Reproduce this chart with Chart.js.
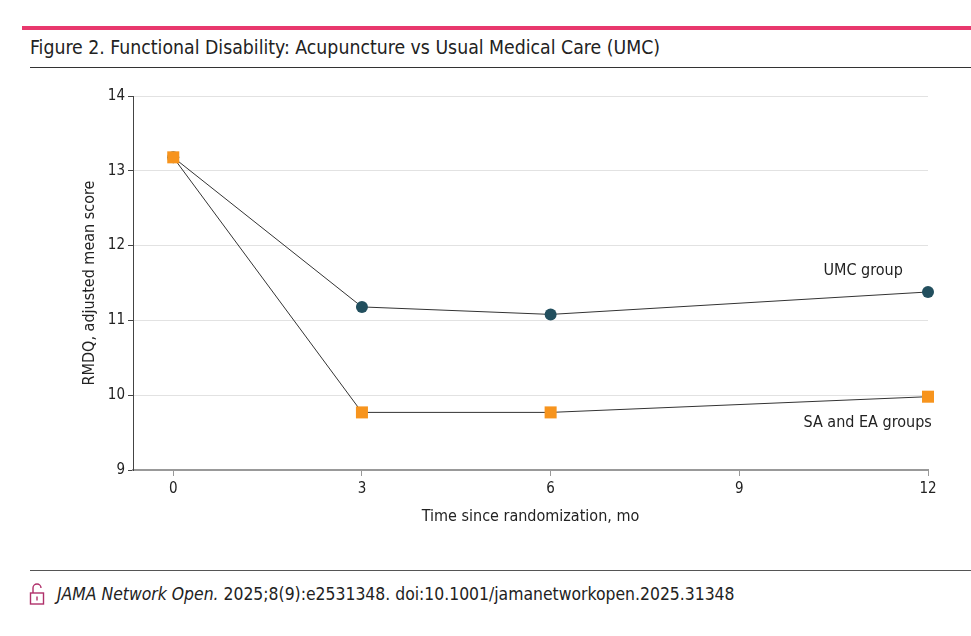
<!DOCTYPE html>
<html>
<head>
<meta charset="utf-8">
<style>
  body { margin: 0; background: #fff; width: 971px; height: 636px; position: relative; overflow: hidden;
         font-family: "DejaVu Sans Condensed", "Liberation Sans Narrow", "Liberation Sans", sans-serif; color: #222; }
  .pink { position: absolute; left: 22px; right: 0; top: 26px; height: 4px; background: #e8386d; }
  .title { position: absolute; left: 30px; top: 36px; font-size: 19.3px; white-space: nowrap; }
  .rule { position: absolute; left: 30px; right: 0; top: 67px; height: 1px; background: #333; }
  .foot-rule { position: absolute; left: 30px; right: 0; top: 570px; height: 1px; background: #555; }
  .foot { position: absolute; left: 57px; top: 584px; font-size: 17.4px; white-space: nowrap; }
  .lock { position: absolute; left: 29px; top: 582px; }
  #wrap { position: absolute; left: 0; top: 80px; width: 971px; height: 460px; }
</style>
</head>
<body>
<div class="pink"></div>
<div class="title">Figure 2. Functional Disability: Acupuncture vs Usual Medical Care (UMC)</div>
<div class="rule"></div>
<div id="wrap"><canvas id="chart" width="971" height="460"></canvas></div>
<div class="foot-rule"></div>
<svg class="lock" width="16" height="24" viewBox="0 0 16 24">
  <path d="M4 11 V6 a4 4 0 0 1 8 0" fill="none" stroke="#b0306a" stroke-width="1.4"/>
  <rect x="1.5" y="11" width="13" height="11" fill="none" stroke="#b0306a" stroke-width="1.4"/>
  <line x1="8" y1="14.5" x2="8" y2="18.5" stroke="#b0306a" stroke-width="1.4"/>
</svg>
<div class="foot"><i>JAMA Network Open.</i> 2025;8(9):e2531348. doi:10.1001/jamanetworkopen.2025.31348</div>

<script src="https://cdn.jsdelivr.net/npm/chart.js"></script>
<script>
  const months = [0, 3, 6, 12];
  const umcScores = [13.18, 11.18, 11.08, 11.38];
  const acuScores = [13.18, 9.77, 9.77, 9.98];
  const xTicks = [0, 3, 6, 9, 12];
  const yTicks = [9, 10, 11, 12, 13, 14];

  const FONT = '"DejaVu Sans Condensed", "Liberation Sans Narrow", "Liberation Sans", sans-serif';

  // series labels placed next to the lines
  const seriesLabels = [
    { text: 'UMC group', x: 11.6, y: 11.66 },
    { text: 'SA and EA groups', x: 12.06, y: 9.63 }
  ];

  const labelPlugin = {
    id: 'seriesLabels',
    afterDatasetsDraw(chart) {
      const { ctx, scales: { x, y } } = chart;
      ctx.save();
      ctx.font = '16px ' + FONT;
      ctx.fillStyle = '#222';
      ctx.textAlign = 'right';
      ctx.textBaseline = 'middle';
      seriesLabels.forEach(l => ctx.fillText(l.text, x.getPixelForValue(l.x), y.getPixelForValue(l.y)));
      ctx.restore();
    }
  };

  const ctx = document.getElementById('chart').getContext('2d');
  new Chart(ctx, {
    type: 'line',
    data: {
      datasets: [
        {
          label: 'UMC group',
          data: months.map((m, i) => ({ x: m, y: umcScores[i] })),
          order: 1, // drawn under the squares
          borderColor: '#333',
          borderWidth: 1,
          pointStyle: 'circle',
          pointRadius: 6,
          pointBorderWidth: 0,
          pointBackgroundColor: '#224f5e',
          clip: false
        },
        {
          label: 'SA and EA groups',
          data: months.map((m, i) => ({ x: m, y: acuScores[i] })),
          order: 0,
          borderColor: '#333',
          borderWidth: 1,
          pointStyle: 'rect',
          pointRadius: 8.5,
          pointBorderWidth: 0,
          pointBackgroundColor: '#f7941d',
          clip: false
        }
      ]
    },
    options: {
      responsive: false,
      animation: false,
      layout: { padding: { left: 77, right: 43, top: 16, bottom: 14 } },
      plugins: { legend: { display: false }, tooltip: { enabled: false } },
      scales: {
        x: {
          type: 'linear',
          min: -0.64,
          max: 12,
          afterBuildTicks: axis => { axis.ticks = xTicks.map(v => ({ value: v })); },
          afterFit: scale => { scale.height = 56; },
          grid: { drawOnChartArea: false, tickLength: 6, tickColor: '#999' },
          border: { color: '#999', width: 2 },
          ticks: { color: '#222', font: { family: FONT, size: 15 }, padding: 4, maxRotation: 0 },
          title: { display: true, text: 'Time since randomization, mo', color: '#222',
                   font: { family: FONT, size: 16 }, padding: { top: 0, bottom: 0 } }
        },
        y: {
          min: 9,
          max: 14,
          afterBuildTicks: axis => { axis.ticks = yTicks.map(v => ({ value: v })); },
          afterFit: scale => { scale.width = 56; },
          grid: { color: '#e2e2e2', lineWidth: 1, tickLength: 5, tickColor: '#444' },
          border: { color: '#444', width: 1 },
          ticks: { color: '#222', font: { family: FONT, size: 15 }, padding: 3 },
          title: { display: true, text: 'RMDQ, adjusted mean score', color: '#222',
                   font: { family: FONT, size: 16 }, padding: { top: 3, bottom: 0 } }
        }
      }
    },
    plugins: [labelPlugin]
  });
</script>
</body>
</html>
